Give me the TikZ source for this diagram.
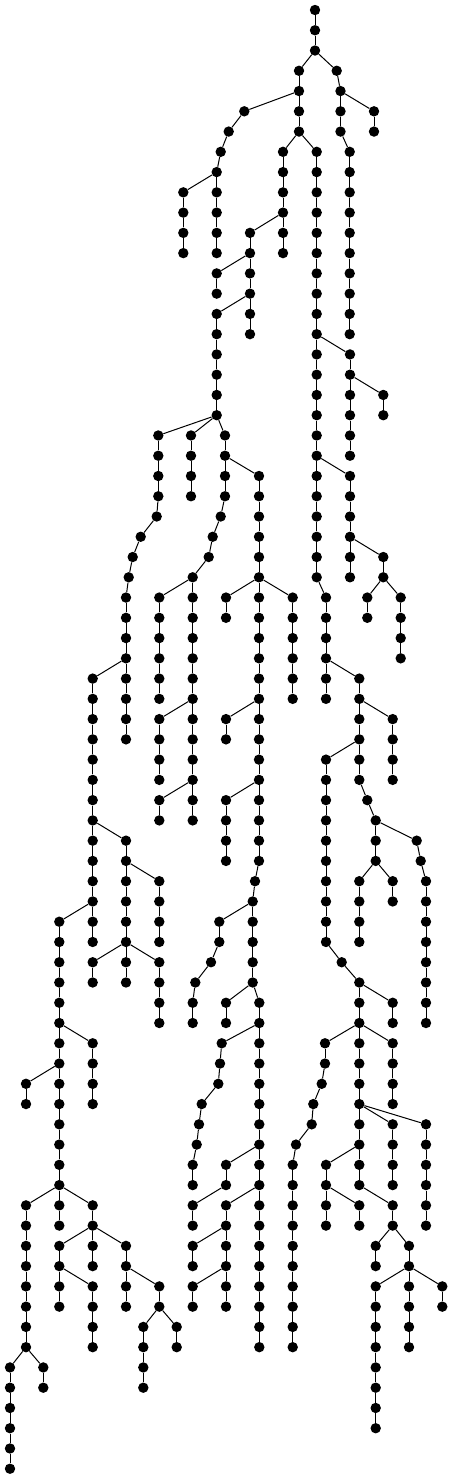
\documentclass[tikz,border=0pt]{standalone}
\usepackage{tikz}
\tikzset{
  tnode/.style={circle,fill=black,draw=none,inner sep=0pt,minimum size=10.4pt},
  lnk/.style={draw=black,line width=1pt}
}
\newcommand\mkchain[4]{%
  \foreach \k in {#3,...,#4}{\node[tnode] (#1-\k) at (#2,\k) {};}%
  \foreach \k in {#3,...,#4}{\ifnum\k>#3\relax\pgfmathtruncatemacro\kp{\k-1}\draw[lnk] (#1-\kp) -- (#1-\k);\fi}%
}
\newcommand\one[3]{\node[tnode] (#1) at (#2,#3) {};}
\newcommand\edg[2]{\draw[lnk] (#1) -- (#2);}
\begin{document}
\begin{tikzpicture}[x=1pt,y=-20.26pt]
\useasboundingbox (0,-0.4936) rectangle (452,72.507);
% top
\mkchain{A}{315}{0}{2}
\mkchain{B}{299}{3}{6} \edg{A-2}{B-3}
\one{C3}{336.7}{3} \edg{A-2}{C3}
\mkchain{C}{340.5}{4}{6} \edg{C3}{C-4}
\mkchain{D}{349.7}{7}{16} \edg{C-6}{D-7}
\mkchain{E}{374}{5}{6} \edg{C-4}{E-5}
\one{F}{244.3}{5} \edg{B-4}{F}
\one{G}{228.7}{6} \edg{F}{G}
\one{H}{220.7}{7} \edg{G}{H}
\mkchain{I}{216.7}{8}{12} \edg{H}{I-8}
\mkchain{J}{183.3}{9}{12} \edg{I-8}{J-9}
\mkchain{K}{283}{7}{12} \edg{B-6}{K-7}
\mkchain{M}{316.7}{7}{28} \edg{B-6}{M-7}
\mkchain{N}{250}{11}{16} \edg{K-10}{N-11}
\mkchain{O}{216.7}{13}{14} \edg{N-12}{O-13}
\mkchain{P}{216.7}{15}{20} \edg{N-14}{P-15}
\mkchain{Q}{350}{17}{22} \edg{M-16}{Q-17}
\mkchain{R}{383.3}{19}{20} \edg{Q-18}{R-19}
\mkchain{S}{350}{23}{28} \edg{M-22}{S-23}
\mkchain{T}{383.3}{27}{28} \edg{S-26}{T-27}
\mkchain{Ua}{367.3}{29}{30} \edg{T-28}{Ua-29}
\mkchain{Ub}{400.7}{29}{32} \edg{T-28}{Ub-29}
\mkchain{V}{326}{29}{34} \edg{M-28}{V-29}
\mkchain{W}{359.3}{33}{38} \edg{V-32}{W-33}
\mkchain{X}{392.7}{35}{38} \edg{W-34}{X-35}
\mkchain{Y}{326}{37}{46} \edg{W-36}{Y-37}
\one{Z}{367.3}{39} \edg{W-38}{Z}
\mkchain{AA}{375.7}{40}{42} \edg{Z}{AA-40}
\one{ABa}{416.7}{41} \edg{AA-40}{ABa}
\one{ABb}{420.7}{42} \edg{ABa}{ABb}
\mkchain{AB}{426}{43}{50} \edg{ABb}{AB-43}
\mkchain{AC}{359.3}{43}{46} \edg{AA-42}{AC-43}
\mkchain{AD}{392.7}{43}{44} \edg{AA-42}{AD-43}
\one{AE}{341.7}{47} \edg{Y-46}{AE}
\mkchain{AF}{359.3}{48}{58} \edg{AE}{AF-48}
\mkchain{AG}{392.7}{49}{50} \edg{AF-48}{AG-49}
\mkchain{AH}{325}{51}{52} \edg{AF-50}{AH-51}
\one{AH53}{321.7}{53} \edg{AH-52}{AH53}
\one{AH54}{313.3}{54} \edg{AH53}{AH54}
\one{AH55}{311.7}{55} \edg{AH54}{AH55}
\one{AH56}{296}{56} \edg{AH55}{AH56}
\mkchain{AHc}{292.7}{57}{66} \edg{AH56}{AHc-57}
\mkchain{AI}{392.7}{51}{54} \edg{AF-50}{AI-51}
\mkchain{AJ}{392.7}{55}{58} \edg{AF-54}{AJ-55}
\mkchain{AK}{426}{55}{60} \edg{AF-54}{AK-55}
\mkchain{AL}{326}{57}{60} \edg{AF-56}{AL-57}
\mkchain{AM}{359.3}{59}{60} \edg{AL-58}{AM-59}
\mkchain{AN}{392.7}{59}{60} \edg{AF-58}{AN-59}
\mkchain{AO}{375.7}{61}{62} \edg{AN-60}{AO-61}
\mkchain{AP}{409}{61}{66} \edg{AN-60}{AP-61}
\mkchain{AQ}{375.7}{63}{70} \edg{AP-62}{AQ-63}
\mkchain{AR}{442.3}{63}{64} \edg{AP-62}{AR-63}
% left middle
\mkchain{BA}{158.3}{21}{24} \edg{P-20}{BA-21}
\one{BA25}{156.7}{25} \edg{BA-24}{BA25}
\one{BA26}{140.7}{26} \edg{BA25}{BA26}
\one{BA27}{132.7}{27} \edg{BA26}{BA27}
\one{BA28}{128.7}{28} \edg{BA27}{BA28}
\mkchain{BB}{126}{29}{36} \edg{BA28}{BB-29}
\mkchain{BC}{191}{21}{24} \edg{P-20}{BC-21}
\mkchain{BD}{225}{21}{24} \edg{P-20}{BD-21}
\one{BD25}{220.7}{25} \edg{BD-24}{BD25}
\one{BD26}{212.7}{26} \edg{BD25}{BD26}
\one{BD27}{208.7}{27} \edg{BD26}{BD27}
\mkchain{BE}{192.7}{28}{40} \edg{BD27}{BE-28}
\mkchain{BF}{159.3}{29}{34} \edg{BE-28}{BF-29}
\mkchain{BG}{159.3}{35}{38} \edg{BE-34}{BG-35}
\mkchain{BH}{159.3}{39}{40} \edg{BE-38}{BH-39}
\mkchain{BJ}{259}{23}{42} \edg{BD-22}{BJ-23}
\mkchain{BK}{226}{29}{30} \edg{BJ-28}{BK-29}
\mkchain{BL}{292.7}{29}{34} \edg{BJ-28}{BL-29}
\mkchain{BM}{226}{35}{36} \edg{BJ-34}{BM-35}
\mkchain{BN}{226}{39}{42} \edg{BJ-38}{BN-39}
\one{BO43}{255}{43} \edg{BJ-42}{BO43}
\mkchain{BO}{252.7}{44}{48} \edg{BO43}{BO-44}
\mkchain{BP}{219.3}{45}{46} \edg{BO-44}{BP-45}
\one{BP47}{211}{47} \edg{BP-46}{BP47}
\one{BP48}{195.3}{48} \edg{BP47}{BP48}
\mkchain{BQ}{192.7}{49}{50} \edg{BP48}{BQ-49}
\mkchain{BR}{226}{49}{50} \edg{BO-48}{BR-49}
\mkchain{BS}{259.3}{49}{66} \edg{BO-48}{BS-49}
\one{BT51}{221.7}{51} \edg{BS-50}{BT51}
\one{BT52}{220}{52} \edg{BT51}{BT52}
\one{BT53}{218.3}{53} \edg{BT52}{BT53}
\one{BT54}{201.7}{54} \edg{BT53}{BT54}
\one{BT55}{199}{55} \edg{BT54}{BT55}
\one{BT56}{196.7}{56} \edg{BT55}{BT56}
\mkchain{BT}{192.7}{57}{58} \edg{BT56}{BT-57}
\mkchain{BU}{226}{57}{58} \edg{BS-56}{BU-57}
\mkchain{BV}{192.7}{59}{60} \edg{BU-58}{BV-59}
\mkchain{BW}{226}{59}{64} \edg{BS-58}{BW-59}
\mkchain{BX}{192.7}{61}{62} \edg{BW-60}{BX-61}
\mkchain{BY}{192.7}{63}{64} \edg{BW-62}{BY-63}
% far left
\mkchain{CA}{92.7}{33}{46} \edg{BB-32}{CA-33}
\mkchain{CB}{126}{41}{46} \edg{CA-40}{CB-41}
\mkchain{CC}{159.3}{43}{46} \edg{CB-42}{CC-43}
\mkchain{CD}{59.3}{45}{60} \edg{CA-44}{CD-45}
\mkchain{CE}{92.7}{47}{48} \edg{CB-46}{CE-47}
\mkchain{CF}{126}{47}{48} \edg{CB-46}{CF-47}
\mkchain{CG}{159.3}{47}{50} \edg{CB-46}{CG-47}
\mkchain{CH}{92.7}{51}{54} \edg{CD-50}{CH-51}
\mkchain{CI}{26}{53}{54} \edg{CD-52}{CI-53}
\mkchain{CJ}{26}{59}{66} \edg{CD-58}{CJ-59}
\mkchain{CK}{92.7}{59}{60} \edg{CD-58}{CK-59}
\mkchain{CL}{10}{67}{72} \edg{CJ-66}{CL-67}
\mkchain{CM}{43.3}{67}{68} \edg{CJ-66}{CM-67}
\mkchain{CN}{59.3}{61}{64} \edg{CK-60}{CN-61}
\mkchain{CO}{92.7}{61}{62} \edg{CK-60}{CO-61}
\mkchain{CP}{126}{61}{64} \edg{CK-60}{CP-61}
\mkchain{CQ}{92.7}{63}{66} \edg{CN-62}{CQ-63}
\mkchain{CR}{159.3}{63}{64} \edg{CP-62}{CR-63}
\mkchain{CS}{143.3}{65}{68} \edg{CR-64}{CS-65}
\mkchain{CT}{176.7}{65}{66} \edg{CR-64}{CT-65}
\end{tikzpicture}
\end{document}
